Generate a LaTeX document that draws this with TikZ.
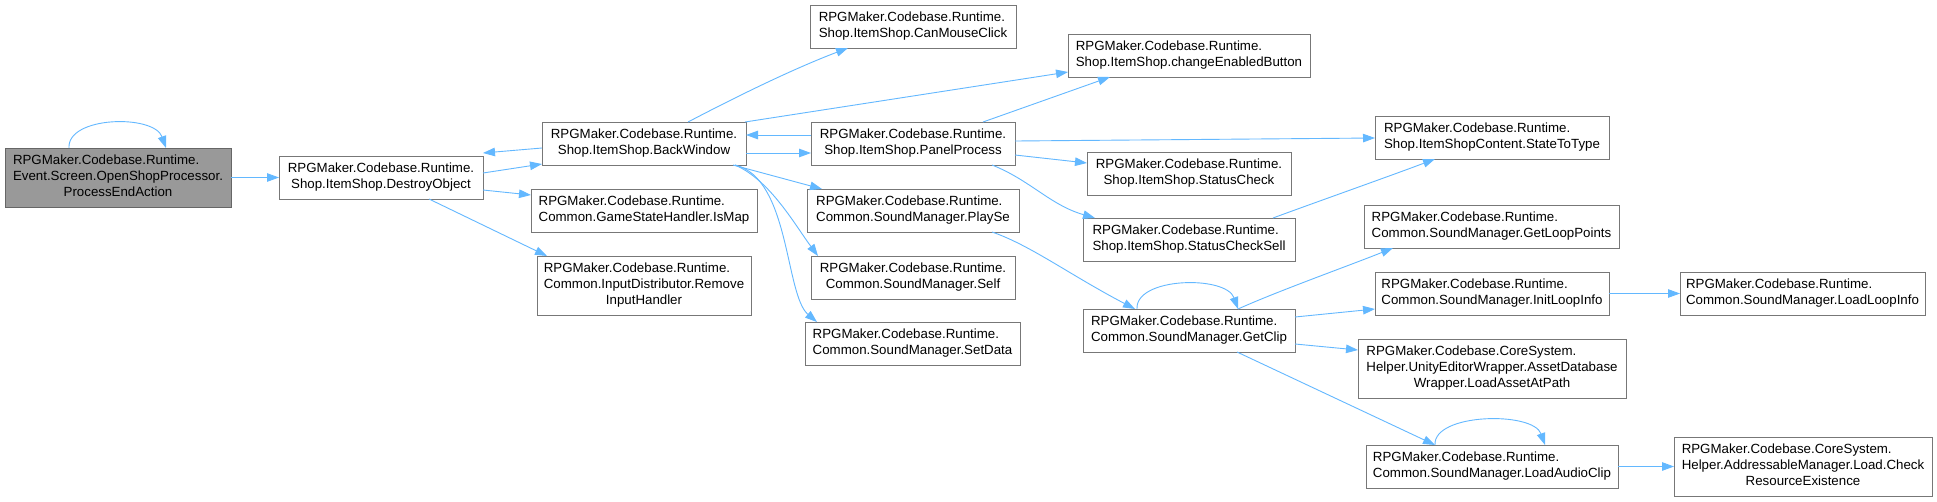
\documentclass[tikz,border=0pt]{standalone}
\usepackage{fontspec}
\setmainfont{Liberation Sans}
\usetikzlibrary{arrows.meta,calc}
\definecolor{edgec}{HTML}{63B8FF}
\definecolor{bordc}{HTML}{777777}
\definecolor{rootfill}{HTML}{999999}
\definecolor{rootbord}{HTML}{666666}
\newcommand\lbl[2]{\begin{tabular}{@{}l@{}}#1\\\multicolumn{1}{@{}c@{}}{#2}\end{tabular}}
\newcommand\bx[7][]{\node[box,#1,minimum width={#5-#3},minimum height={#6-#4}] (#2) at ({(#3+#5)/2},{(#4+#6)/2}) {#7};}
\tikzset{
  box/.style={draw=bordc, line width=1pt, fill=white, inner sep=0pt, outer sep=0pt,
    font=\fontsize{13.3}{16}\selectfont},
  rootbox/.style={fill=rootfill, draw=rootbord},
  conn/.style={draw=edgec, line width=0.9pt, -{Triangle[length=12pt,width=8.5pt]}}
}
\begin{document}
\begin{tikzpicture}[x=1pt,y=-1pt]
\fill[white] (0,0) rectangle (1937,501);
\useasboundingbox (0,0) rectangle (1937,501);

\bx[rootbox]{pea}{5}{148}{231}{207}{\lbl{RPGMaker.Codebase.Runtime.\\Event.Screen.OpenShopProcessor.}{ProcessEndAction}}
\bx{dob}{279}{156}{483}{199}{\lbl{RPGMaker.Codebase.Runtime.}{Shop.ItemShop.DestroyObject}}
\bx{bw}{542}{122}{746}{165}{\lbl{RPGMaker.Codebase.Runtime.}{Shop.ItemShop.BackWindow}}
\bx{ism}{531}{189}{757}{232}{\lbl{RPGMaker.Codebase.Runtime.}{Common.GameStateHandler.IsMap}}
\bx{rih}{537}{256}{751}{315}{\lbl{RPGMaker.Codebase.Runtime.\\Common.InputDistributor.Remove}{InputHandler}}
\bx{cmc}{810}{5}{1016}{48}{\lbl{RPGMaker.Codebase.Runtime.}{Shop.ItemShop.CanMouseClick}}
\bx{pp}{811}{122}{1015}{165}{\lbl{RPGMaker.Codebase.Runtime.}{Shop.ItemShop.PanelProcess}}
\bx{pse}{807}{189}{1019}{232}{\lbl{RPGMaker.Codebase.Runtime.}{Common.SoundManager.PlaySe}}
\bx{slf}{811}{256}{1015}{299}{\lbl{RPGMaker.Codebase.Runtime.}{Common.SoundManager.Self}}
\bx{sd}{805}{322}{1020}{365}{\lbl{RPGMaker.Codebase.Runtime.}{Common.SoundManager.SetData}}
\bx{ceb}{1068}{34}{1310}{77}{\lbl{RPGMaker.Codebase.Runtime.}{Shop.ItemShop.changeEnabledButton}}
\bx{sc}{1087}{152}{1291}{195}{\lbl{RPGMaker.Codebase.Runtime.}{Shop.ItemShop.StatusCheck}}
\bx{scs}{1083}{218}{1295}{261}{\lbl{RPGMaker.Codebase.Runtime.}{Shop.ItemShop.StatusCheckSell}}
\bx{gc}{1083}{309}{1295}{352}{\lbl{RPGMaker.Codebase.Runtime.}{Common.SoundManager.GetClip}}
\bx{stt}{1375}{116}{1609}{159}{\lbl{RPGMaker.Codebase.Runtime.}{Shop.ItemShopContent.StateToType}}
\bx{glp}{1364}{205}{1619}{248}{\lbl{RPGMaker.Codebase.Runtime.}{Common.SoundManager.GetLoopPoints}}
\bx{ili}{1375}{272}{1609}{315}{\lbl{RPGMaker.Codebase.Runtime.}{Common.SoundManager.InitLoopInfo}}
\bx{lap}{1358}{339}{1626}{398}{\lbl{RPGMaker.Codebase.CoreSystem.\\Helper.UnityEditorWrapper.AssetDatabase}{Wrapper.LoadAssetAtPath}}
\bx{lac}{1366}{445}{1618}{488}{\lbl{RPGMaker.Codebase.Runtime.}{Common.SoundManager.LoadAudioClip}}
\bx{lli}{1680}{272}{1925}{315}{\lbl{RPGMaker.Codebase.Runtime.}{Common.SoundManager.LoadLoopInfo}}
\bx{cre}{1674}{437}{1932}{496}{\lbl{RPGMaker.Codebase.CoreSystem.\\Helper.AddressableManager.Load.Check}{ResourceExistence}}

\draw[conn] ($(pea.north west)+(64,0)$) .. controls +(-2,-32) and +(-12,-34) .. ($(pea.north west)+(161,0)$);
\draw[conn] (pea.east) -- (dob.west);
\draw[conn] ($(dob.north west)+(204,17)$) -- ($(bw.north west)+(0,42)$);
\draw[conn] ($(bw.north west)+(0,26)$) -- ($(dob.north west)+(204,-3)$);
\draw[conn] ($(dob.north west)+(204,34)$) -- ($(ism.north west)+(0,6)$);
\draw[conn] ($(dob.north west)+(150,43)$) -- ($(rih.north west)+(10,0)$);
\draw[conn] ($(bw.north west)+(146,0)$) .. controls +(42,-22) and +(-58,22) .. ($(cmc.north west)+(38,43)$);
\draw[conn] ($(bw.north west)+(203,0)$) -- ($(ceb.north west)+(0,38)$);
\draw[conn] ($(bw.north west)+(204,31)$) -- ($(pp.north west)+(0,31)$);
\draw[conn] ($(pp.north west)+(0,13)$) -- ($(bw.north west)+(204,13)$);
\draw[conn] ($(bw.north west)+(191,43)$) -- ($(pse.north west)+(15,0)$);
\draw[conn] ($(bw.north west)+(193,43)$) .. controls +(35,15) and +(-23,-31) .. ($(slf.north west)+(7,0)$);
\draw[conn] ($(bw.north west)+(193,43)$) .. controls +(55,13) and +(-32,-27) .. ($(sd.north west)+(12,0)$);
\draw[conn] ($(pp.north west)+(172,0)$) -- ($(ceb.north west)+(42,43)$);
\draw[conn] ($(pp.north west)+(204,19)$) -- ($(stt.north west)+(0,22)$);
\draw[conn] ($(pp.north west)+(204,33)$) -- ($(sc.north west)+(0,11)$);
\draw[conn] ($(pp.north west)+(181,43)$) .. controls +(38,15) and +(-45,-13) .. ($(scs.north west)+(12,0)$);
\draw[conn] ($(scs.north west)+(190,0)$) .. controls +(35,-13) and +(-45,17) .. ($(stt.north west)+(60,43)$);
\draw[conn] ($(pse.north west)+(185,43)$) .. controls +(38,13) and +(-65,-34) .. ($(gc.north west)+(52,0)$);
\draw[conn] ($(gc.north west)+(54,0)$) .. controls +(-2,-32) and +(-12,-34) .. ($(gc.north west)+(155,0)$);
\draw[conn] ($(gc.north west)+(155,0)$) .. controls +(40,-18) and +(-45,18) .. ($(glp.north west)+(29,43)$);
\draw[conn] ($(gc.north west)+(212,8)$) -- ($(ili.north west)+(0,37)$);
\draw[conn] ($(gc.north west)+(212,35)$) -- ($(lap.north west)+(0,11)$);
\draw[conn] ($(gc.north west)+(154,43)$) -- ($(lac.north west)+(69,0)$);
\draw[conn] ($(lac.north west)+(69,0)$) .. controls +(-2,-32) and +(-12,-34) .. ($(lac.north west)+(179,0)$);
\draw[conn] (ili.east) -- (lli.west);
\draw[conn] (lac.east) -- (cre.west);
\end{tikzpicture}
\end{document}
